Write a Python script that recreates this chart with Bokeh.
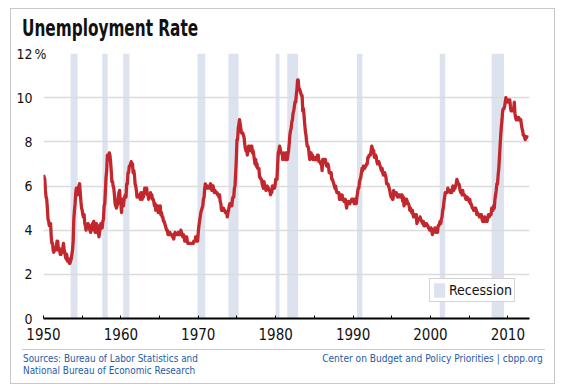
from bokeh.plotting import figure
from bokeh.models import (Range1d, FixedTicker, LinearAxis, Legend, LegendItem, Div)
from bokeh.layouts import column
from bokeh.embed import file_html
from bokeh.resources import INLINE

# Monthly unemployment rate (%), Jan 1950 onward, by decade
u1950s = [6.5, 6.4, 6.3, 5.8, 5.5, 5.4, 5.0, 4.5, 4.4, 4.2, 4.2, 4.3,
          3.7, 3.4, 3.4, 3.1, 3.0, 3.2, 3.1, 3.1, 3.3, 3.5, 3.5, 3.1,
          3.2, 3.1, 2.9, 2.9, 3.0, 3.0, 3.2, 3.4, 3.1, 3.0, 2.8, 2.7,
          2.9, 2.6, 2.6, 2.7, 2.5, 2.5, 2.6, 2.7, 2.9, 3.1, 3.5, 4.5,
          4.9, 5.2, 5.7, 5.9, 5.9, 5.6, 5.8, 6.0, 6.1, 5.7, 5.3, 5.0,
          4.9, 4.7, 4.6, 4.7, 4.3, 4.2, 4.0, 4.2, 4.1, 4.3, 4.2, 4.2,
          4.0, 3.9, 4.2, 4.0, 4.3, 4.3, 4.4, 4.1, 3.9, 3.9, 4.3, 4.2,
          4.2, 3.9, 3.7, 3.9, 4.1, 4.3, 4.2, 4.1, 4.4, 4.5, 5.1, 5.2,
          5.8, 6.4, 6.7, 7.4, 7.4, 7.3, 7.5, 7.4, 7.1, 6.7, 6.2, 6.2,
          6.0, 5.9, 5.6, 5.2, 5.1, 5.0, 5.1, 5.2, 5.5, 5.7, 5.8, 5.3]
u1960s = [5.2, 4.8, 5.4, 5.2, 5.1, 5.4, 5.5, 5.6, 5.5, 6.1, 6.1, 6.6,
          6.6, 6.9, 6.9, 7.0, 7.1, 6.9, 7.0, 6.6, 6.7, 6.5, 6.1, 6.0,
          5.8, 5.5, 5.6, 5.6, 5.5, 5.5, 5.4, 5.7, 5.6, 5.4, 5.7, 5.5,
          5.7, 5.9, 5.7, 5.7, 5.9, 5.6, 5.6, 5.4, 5.5, 5.5, 5.7, 5.5,
          5.6, 5.4, 5.4, 5.3, 5.1, 5.2, 4.9, 5.0, 5.1, 5.1, 4.8, 5.0,
          4.9, 5.1, 4.7, 4.8, 4.6, 4.6, 4.4, 4.4, 4.3, 4.2, 4.1, 4.0,
          4.0, 3.8, 3.8, 3.8, 3.9, 3.8, 3.8, 3.8, 3.7, 3.7, 3.6, 3.8,
          3.9, 3.8, 3.8, 3.8, 3.8, 3.9, 3.8, 3.8, 3.8, 4.0, 3.9, 3.8,
          3.7, 3.8, 3.7, 3.5, 3.5, 3.7, 3.7, 3.5, 3.4, 3.4, 3.4, 3.4,
          3.4, 3.4, 3.4, 3.4, 3.4, 3.5, 3.5, 3.5, 3.7, 3.7, 3.5, 3.5]
u1970s = [3.9, 4.2, 4.4, 4.6, 4.8, 4.9, 5.0, 5.1, 5.4, 5.5, 5.9, 6.1,
          5.9, 5.9, 6.0, 5.9, 5.9, 5.9, 6.0, 6.1, 6.0, 5.8, 6.0, 6.0,
          5.8, 5.7, 5.8, 5.7, 5.7, 5.7, 5.6, 5.6, 5.5, 5.6, 5.3, 5.2,
          4.9, 5.0, 4.9, 5.0, 4.9, 4.9, 4.8, 4.8, 4.8, 4.6, 4.8, 4.9,
          5.1, 5.2, 5.1, 5.1, 5.1, 5.4, 5.5, 5.5, 5.9, 6.0, 6.6, 7.2,
          8.1, 8.1, 8.6, 8.8, 9.0, 8.8, 8.6, 8.4, 8.4, 8.4, 8.3, 8.2,
          7.9, 7.7, 7.6, 7.7, 7.4, 7.6, 7.8, 7.8, 7.6, 7.7, 7.8, 7.8,
          7.5, 7.6, 7.4, 7.2, 7.0, 7.2, 6.9, 7.0, 6.8, 6.8, 6.8, 6.4,
          6.4, 6.3, 6.3, 6.1, 6.0, 5.9, 6.2, 5.9, 6.0, 5.8, 5.9, 6.0,
          5.9, 5.9, 5.8, 5.8, 5.6, 5.7, 5.7, 6.0, 5.9, 6.0, 5.9, 6.0]
u1980s = [6.3, 6.3, 6.3, 6.9, 7.5, 7.6, 7.8, 7.7, 7.5, 7.5, 7.5, 7.2,
          7.5, 7.4, 7.4, 7.2, 7.5, 7.5, 7.2, 7.4, 7.6, 7.9, 8.3, 8.5,
          8.6, 8.9, 9.0, 9.3, 9.4, 9.6, 9.8, 9.8, 10.1, 10.4, 10.8, 10.8,
          10.4, 10.4, 10.3, 10.2, 10.1, 10.1, 9.4, 9.5, 9.2, 8.8, 8.5, 8.3,
          8.0, 7.8, 7.8, 7.7, 7.4, 7.2, 7.5, 7.5, 7.3, 7.4, 7.2, 7.3,
          7.3, 7.2, 7.2, 7.3, 7.2, 7.4, 7.4, 7.1, 7.1, 7.1, 7.0, 7.0,
          6.7, 7.2, 7.2, 7.1, 7.2, 7.2, 7.0, 6.9, 7.0, 7.0, 6.9, 6.6,
          6.6, 6.6, 6.6, 6.3, 6.3, 6.2, 6.1, 6.0, 5.9, 6.0, 5.8, 5.7,
          5.7, 5.7, 5.7, 5.4, 5.6, 5.4, 5.4, 5.6, 5.4, 5.4, 5.3, 5.3,
          5.4, 5.2, 5.0, 5.2, 5.2, 5.3, 5.2, 5.2, 5.3, 5.3, 5.4, 5.4]
u1990s = [5.4, 5.3, 5.2, 5.4, 5.4, 5.2, 5.5, 5.7, 5.9, 5.9, 6.2, 6.3,
          6.4, 6.6, 6.8, 6.7, 6.9, 6.9, 6.8, 6.9, 6.9, 7.0, 7.0, 7.3,
          7.3, 7.4, 7.4, 7.4, 7.6, 7.8, 7.7, 7.6, 7.6, 7.3, 7.4, 7.4,
          7.3, 7.1, 7.0, 7.1, 7.1, 7.0, 6.9, 6.8, 6.7, 6.8, 6.6, 6.5,
          6.6, 6.6, 6.5, 6.4, 6.1, 6.1, 6.1, 6.0, 5.9, 5.8, 5.6, 5.5,
          5.6, 5.4, 5.4, 5.8, 5.6, 5.6, 5.7, 5.7, 5.6, 5.5, 5.6, 5.6,
          5.6, 5.5, 5.5, 5.6, 5.6, 5.3, 5.5, 5.1, 5.2, 5.2, 5.4, 5.4,
          5.3, 5.2, 5.2, 5.1, 4.9, 5.0, 4.9, 4.8, 4.9, 4.7, 4.6, 4.7,
          4.6, 4.6, 4.7, 4.3, 4.4, 4.5, 4.5, 4.5, 4.6, 4.5, 4.4, 4.4,
          4.3, 4.4, 4.2, 4.3, 4.2, 4.3, 4.3, 4.2, 4.2, 4.1, 4.1, 4.0]
u2000s = [4.0, 4.1, 4.0, 3.8, 4.0, 4.0, 4.0, 4.1, 3.9, 3.9, 3.9, 3.9,
          4.2, 4.2, 4.3, 4.4, 4.3, 4.5, 4.6, 4.9, 5.0, 5.3, 5.5, 5.7,
          5.7, 5.7, 5.7, 5.9, 5.8, 5.8, 5.8, 5.7, 5.7, 5.7, 5.9, 6.0,
          5.8, 5.9, 5.9, 6.0, 6.1, 6.3, 6.2, 6.1, 6.1, 6.0, 5.8, 5.7,
          5.7, 5.6, 5.8, 5.6, 5.6, 5.6, 5.5, 5.4, 5.4, 5.5, 5.4, 5.4,
          5.3, 5.4, 5.2, 5.2, 5.1, 5.0, 5.0, 4.9, 5.0, 5.0, 5.0, 4.9,
          4.7, 4.8, 4.7, 4.7, 4.6, 4.6, 4.7, 4.7, 4.5, 4.4, 4.5, 4.4,
          4.6, 4.5, 4.4, 4.5, 4.4, 4.6, 4.7, 4.6, 4.7, 4.7, 4.7, 5.0,
          5.0, 4.9, 5.1, 5.0, 5.4, 5.6, 5.8, 6.1, 6.1, 6.5, 6.8, 7.3,
          7.8, 8.3, 8.7, 9.0, 9.4, 9.5, 9.5, 9.6, 9.8, 10.0, 9.9, 9.9]
u2010s = [9.8, 9.8, 9.9, 9.9, 9.6, 9.4, 9.4, 9.5, 9.5, 9.4, 9.8, 9.3,
          9.1, 9.0, 9.0, 9.1, 9.0, 9.1, 9.0, 9.0, 9.0, 8.8, 8.6, 8.5,
          8.3, 8.3, 8.2, 8.1, 8.2, 8.2, 8.3]

# NBER recessions (fractional years)
rec_start = [1953.5, 1957.6, 1960.3, 1969.9, 1973.9, 1980.0, 1981.5, 1990.5, 2001.2, 2007.9]
rec_end   = [1954.4, 1958.3, 1961.1, 1970.9, 1975.2, 1980.5, 1982.9, 1991.2, 2001.9, 2009.5]

x_ticks = [1950, 1960, 1970, 1980, 1990, 2000, 2010]
x_minor = [1955, 1965, 1975, 1985, 1995, 2005]
y_ticks = [0, 2, 4, 6, 8, 10, 12]

rate = u1950s + u1960s + u1970s + u1980s + u1990s + u2000s + u2010s
months = [1950 + i / 12 for i in range(len(rate))]

FONT_A = "DejaVu Sans Condensed"
CSS_FONT = "font-family:'DejaVu Sans Condensed', Roboto, sans-serif; font-stretch:condensed;"
RED = "#c1272d"
BAND = "#dde2ef"
BLUE = "#1f5ba8"

title_div = Div(
    text=('<div style="padding:8px 0 0 11px; ' + CSS_FONT +
          ' font-weight:bold; font-size:23px; line-height:23px; color:#111111;'
          ' white-space:nowrap;"><span style="display:inline-block; transform:scaleX(0.74);'
          ' transform-origin:left center;">Unemployment Rate</span></div>'),
    width=543, height=36, margin=0)

p = figure(width=543, height=300, output_backend="svg", toolbar_location=None,
           x_range=Range1d(1950, 2012.8), y_range=Range1d(0, 12),
           min_border_left=32, min_border_right=25, min_border_top=8,
           min_border_bottom=27, margin=0)
p.outline_line_color = None
p.background_fill_color = "white"
p.border_fill_color = "white"

bands = p.quad(left=rec_start, right=rec_end, bottom=0, top=12,
               fill_color=BAND, line_color=None, level="underlay")
p.line(months, rate, line_color=RED, line_width=3.3, line_join="round")

p.xgrid.grid_line_color = None
p.ygrid.grid_line_color = "#dcdcdc"
p.ygrid.grid_line_width = 1.5
p.ygrid.ticker = FixedTicker(ticks=y_ticks)

xa = p.xaxis[0]
xa.ticker = FixedTicker(ticks=x_ticks, minor_ticks=x_minor)
xa.axis_line_color = "black"
xa.axis_line_width = 2
xa.major_tick_in = 3
xa.major_tick_out = 0
xa.minor_tick_in = 3
xa.minor_tick_out = 0
xa.major_tick_line_color = "black"
xa.minor_tick_line_color = "black"
xa.major_label_text_font = FONT_A
xa.major_label_text_font_size = "15px"
xa.major_label_text_color = "#111111"
xa.major_label_standoff = 9

# inner left axis carries the "%" sign, outer one the numbers
ya = p.yaxis[0]
ya.ticker = FixedTicker(ticks=[12])
ya.major_label_overrides = {12: "%"}
ya.axis_line_color = None
ya.major_tick_line_color = None
ya.minor_tick_line_color = None
ya.major_tick_in = 0
ya.major_tick_out = 0
ya.major_label_standoff = -3
ya.major_label_text_font = FONT_A
ya.major_label_text_font_size = "14px"
ya.major_label_text_color = "#111111"

yb = LinearAxis(ticker=FixedTicker(ticks=y_ticks), axis_line_color=None,
                major_tick_line_color=None, minor_tick_line_color=None,
                major_tick_in=0, major_tick_out=0, major_label_standoff=-1,
                major_label_text_font=FONT_A, major_label_text_font_size="14px",
                major_label_text_color="#111111")
p.add_layout(yb, "left")

legend = Legend(items=[LegendItem(label="Recession", renderers=[bands])],
                location=(386, 16), orientation="vertical",
                label_text_font=FONT_A, label_text_font_size="14px",
                label_text_color="#111111", glyph_width=14, glyph_height=18,
                label_standoff=3, padding=2, spacing=0, margin=0,
                border_line_color="#aaaaaa", border_line_width=1,
                background_fill_color="white", background_fill_alpha=1)
p.add_layout(legend, "center")

footer_div = Div(
    text=('<div style="position:relative; margin:4px 0 0 11px; width:523px; height:30px;'
          ' border-top:1px solid #cccccc; ' + CSS_FONT +
          ' font-size:10.5px; line-height:12.3px; color:' + BLUE + ';">'
          '<div style="position:absolute; left:1px; top:2px; white-space:nowrap;'
          ' transform:scaleX(0.94); transform-origin:left top;">'
          'Sources: Bureau of Labor Statistics and<br>National Bureau of Economic Research</div>'
          '<div style="position:absolute; right:2px; top:2px; white-space:nowrap;'
          ' transform:scaleX(0.96); transform-origin:right top;">'
          'Center on Budget and Policy Priorities | cbpp.org</div></div>'),
    width=543, height=38, margin=0)

layout = column(title_div, p, footer_div, margin=(8, 0, 0, 10),
                styles={"border": "1px solid #c8c8c8"})

open("out.html", "w").write(file_html(layout, INLINE))
